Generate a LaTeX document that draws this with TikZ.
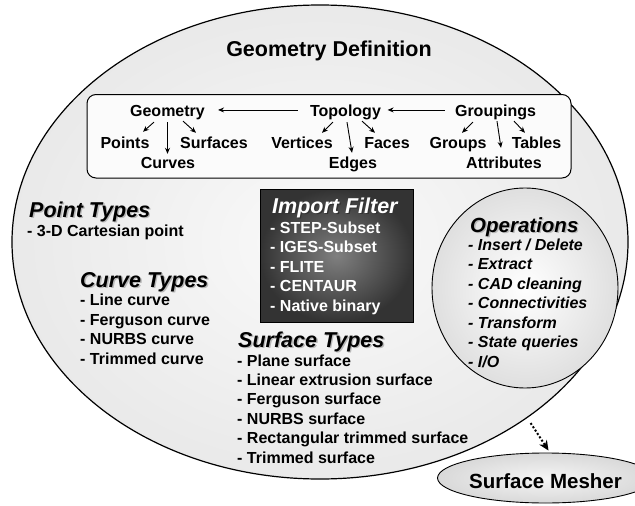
\documentclass[tikz,border=0pt]{standalone}
\usepackage{fontspec}
\setmainfont{Liberation Sans}
\usetikzlibrary{arrows.meta, positioning, shapes.geometric}
\tikzstyle{arrow} = [line width=0.9pt, -{Stealth[length=6pt, width=5pt]}]
\tikzstyle{dotarrow} = [line width=2pt, dotted, -{Stealth[length=10pt, width=9pt]}]
\tikzstyle{lbl} = [inner sep=0pt, anchor=base, text height=11.5pt, text depth=3.4pt, font=\fontsize{16}{19.6}\bfseries]
\tikzstyle{heading} = [inner sep=0pt, anchor=base west, font=\fontsize{21.5}{24}\bfseries\itshape]
\tikzstyle{list} = [inner sep=0pt, anchor=north west, align=left, font=\fontsize{16}{19.6}\bfseries]
\newcommand{\shadowed}[2][gray!55]{\makebox[0pt][l]{\hspace{1.4pt}\raisebox{-1.4pt}{\textcolor{#1}{#2}}}#2}

\begin{document}
\begin{tikzpicture}[x=1pt, y=-1pt]
    \useasboundingbox (0,0) rectangle (635,506);
    % outer ellipse and title
    \node[draw, ellipse, line width=1.2pt, inner color=gray!4, outer color=gray!17,
          minimum width=616pt, minimum height=474pt, inner sep=0pt] (geomdef) at (320,242) {};
    \node[inner sep=0pt, anchor=base, font=\fontsize{21.5}{24}\bfseries] (title) at (329,56.7) {Geometry Definition};

    % data structure box
    \node[draw, line width=1pt, fill=gray!3, rounded corners=9pt, minimum width=484pt,
          minimum height=83.5pt, inner sep=0pt] (topobox) at (329,136.25) {};
    \node[lbl] (geometry)   at (167.5,116.5) {Geometry};
    \node[lbl] (topology)   at (345.5,116.5) {Topology};
    \node[lbl] (groupings)  at (495.5,116.5) {Groupings};
    \node[lbl] (points)     at (125,148.5)   {Points};
    \node[lbl] (surfaces)   at (214,148.5)   {Surfaces};
    \node[lbl] (vertices)   at (302,148.5)   {Vertices};
    \node[lbl] (faces)      at (387,148.5)   {Faces};
    \node[lbl] (groups)     at (458,148.5)   {Groups};
    \node[lbl] (tables)     at (536.5,148.5) {Tables};
    \node[lbl] (curves)     at (168,168.5)   {Curves};
    \node[lbl] (edges)      at (353,168.5)   {Edges};
    \node[lbl] (attributes) at (504,168.5)   {Attributes};

    \draw[arrow] ([shift={(-12,-2.5)}]topology.west) -- ([shift={(13,-2.5)}]geometry.east);
    \draw[arrow] ([shift={(-10,-2.5)}]groupings.west) -- ([shift={(6.5,-2.5)}]topology.east);
    \draw[arrow] ([shift={(-13.5,2)}]geometry.south) -- ([shift={(18,-5)}]points.north);
    \draw[arrow] ([shift={(0,2)}]geometry.south) -- ([shift={(-0.5,-3)}]curves.north);
    \draw[arrow] ([shift={(15.5,1)}]geometry.south) -- ([shift={(-18,-4)}]surfaces.north);
    \draw[arrow] ([shift={(-12.5,2)}]topology.south) -- ([shift={(20,-4)}]vertices.north);
    \draw[arrow] ([shift={(1.5,2)}]topology.south) -- ([shift={(-1,-4)}]edges.north);
    \draw[arrow] ([shift={(16.5,1)}]topology.south) -- ([shift={(-12,-4)}]faces.north);
    \draw[arrow] ([shift={(-22.5,2)}]groupings.south) -- ([shift={(4,-4)}]groups.north);
    \draw[arrow] ([shift={(1.5,1)}]groupings.south) -- ([shift={(-3,-9)}]attributes.north);
    \draw[arrow] ([shift={(18.5,1)}]groupings.south) -- ([shift={(-11.5,-4)}]tables.north);

    % entity types
    \node[heading] (pointtitle) at (29,217) {\shadowed{Point Types}};
    \node[list] (pointlist) at (27,224.4) {- 3-D Cartesian point};
    \node[heading] (curvetitle) at (80,287) {\shadowed{Curve Types}};
    \node[list] (curvelist) at (80,293.8) {- Line curve\\- Ferguson curve\\- NURBS curve\\- Trimmed curve};
    \node[heading] (surftitle) at (238,347) {\shadowed{Surface Types}};
    \node[list, font=\fontsize{16}{19.4}\bfseries] (surflist) at (237,354.4)
        {- Plane surface\\- Linear extrusion surface\\- Ferguson surface\\- NURBS surface\\- Rectangular trimmed surface\\- Trimmed surface};

    % import filter
    \node[draw, line width=1pt, inner color=black!50, outer color=black!80, minimum width=153pt,
          minimum height=133pt, inner sep=0pt] (filterbox) at (336.5,255.5) {};
    \node[heading, text=white] (filtertitle) at (272,213) {\shadowed[black!80]{Import Filter}};
    \node[list, text=white, font=\fontsize{16}{19.5}\bfseries] (filterlist) at (270,221.4)
        {- STEP-Subset\\- IGES-Subset\\- FLITE\\- CENTAUR\\- Native binary};

    % operations
    \node[draw, ellipse, line width=0.9pt, inner color=white, outer color=gray!25, minimum width=186pt,
          minimum height=200pt, inner sep=0pt] (ops) at (525,288) {};
    \node[heading, font=\fontsize{20.5}{24}\bfseries\itshape] (optitle) at (470,232) {\shadowed{Operations}};
    \node[list, font=\fontsize{16}{19.5}\bfseries\itshape] (oplist) at (468,238.4)
        {- Insert / Delete\\- Extract\\- CAD cleaning\\- Connectivities\\- Transform\\- State queries\\- I/O};

    % mesher
    \node[draw, ellipse, line width=0.9pt, inner color=gray!8, outer color=gray!30, minimum width=165pt,
          minimum height=50pt, inner sep=0pt, text height=20pt, text depth=0pt,
          font=\fontsize{20.5}{24}\bfseries] (mesher) at (545.5,478) {Surface Mesher};
    \draw[dotarrow] ([shift={(2,6)}]geomdef.-40) -- ([shift={(3,-2)}]mesher.north);
\end{tikzpicture}
\end{document}
